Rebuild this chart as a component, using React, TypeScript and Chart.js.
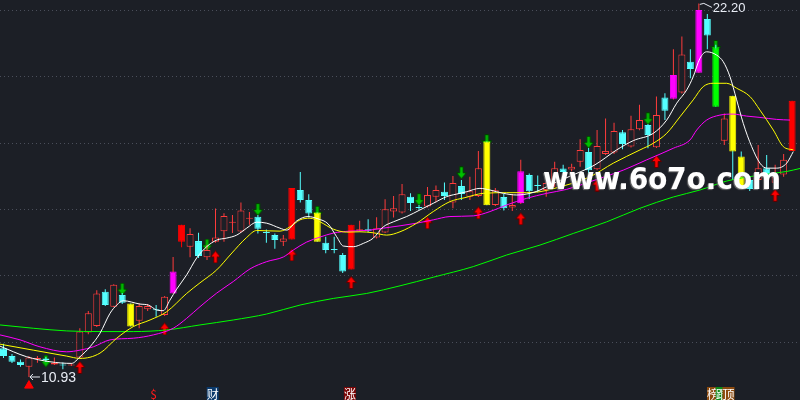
import React, { useEffect, useRef } from 'react';
import { Chart, registerables } from 'chart.js';

Chart.register(...registerables);

const BG = '#1c1f26';

// ---------- candle data (index 0..93) ----------
const opens = [
  11.80, 11.56, 11.39, 11.24, 11.47, 11.49, 11.31, 11.31, 11.28, 11.52,
  12.27, 12.47, 13.50, 13.05, 13.40, 13.15, 12.63, 12.97, 12.97, 12.80,
  13.45, 15.01, 14.86, 15.03, 14.54, 15.01, 15.33, 15.58, 15.32, 15.70,
  15.76, 15.30, 15.21, 15.01, 15.08, 16.57, 16.27, 15.89, 14.98, 14.79,
  14.61, 14.17, 15.34, 15.39, 15.14, 15.29, 15.92, 15.89, 16.37, 16.06,
  16.07, 16.37, 16.52, 16.19, 16.69, 16.37, 16.39, 18.03, 16.12, 16.36,
  16.04, 16.17, 17.02, 16.72, 16.57, 16.78, 17.22, 17.19, 17.42, 17.72,
  17.20, 17.66, 17.70, 18.31, 17.88, 18.40, 18.53, 17.86, 19.36, 19.32,
  19.51, 20.44, 20.11, 21.73, 20.85, 18.06, 19.41, 17.58, 16.87, 16.87,
  17.23, 16.79, 17.04, 17.75,
];
const closes = [
  11.56, 11.39, 11.29, 11.52, 11.50, 11.44, 11.36, 11.28, 11.31, 12.30,
  12.85, 13.45, 13.10, 13.71, 13.17, 12.45, 13.07, 13.07, 12.94, 13.35,
  14.11, 15.52, 15.24, 14.58, 14.76, 15.14, 15.79, 15.61, 15.95, 15.73,
  15.40, 15.27, 15.06, 15.11, 16.63, 16.27, 15.86, 15.01, 14.76, 14.76,
  14.11, 15.52, 15.39, 15.34, 15.42, 15.99, 16.02, 16.44, 16.18, 16.03,
  16.42, 16.57, 16.39, 16.78, 16.45, 16.53, 17.23, 16.11, 16.56, 16.02,
  16.12, 17.14, 16.53, 16.69, 16.78, 17.23, 17.11, 17.27, 17.78, 17.17,
  17.90, 17.75, 18.35, 17.96, 18.40, 18.68, 18.23, 18.83, 18.96, 20.04,
  20.66, 20.22, 22.00, 21.23, 19.08, 18.73, 17.73, 16.62, 16.60, 17.23,
  17.02, 16.97, 17.48, 19.26,
];
const highs = [
  11.93, 11.62, 11.46, 11.56, 11.56, 11.53, 11.52, 11.37, 11.35, 12.40,
  12.92, 13.55, 13.58, 13.73, 13.46, 13.15, 13.15, 13.13, 13.10, 13.37,
  14.55, 15.52, 15.42, 15.28, 14.91, 16.01, 15.87, 15.82, 16.19, 15.91,
  15.82, 15.38, 15.26, 15.21, 16.63, 17.11, 16.44, 15.89, 15.16, 15.16,
  14.67, 15.52, 15.64, 15.69, 15.75, 16.29, 16.39, 16.75, 16.47, 16.12,
  16.66, 16.71, 16.80, 16.99, 16.87, 16.97, 17.75, 18.03, 16.63, 16.45,
  16.45, 17.48, 17.07, 17.01, 16.82, 17.42, 17.33, 17.36, 18.10, 17.84,
  18.38, 18.73, 18.60, 18.38, 18.81, 19.14, 18.56, 19.39, 19.49, 20.82,
  21.20, 20.82, 22.20, 21.88, 20.95, 18.88, 19.41, 17.73, 16.99, 17.93,
  17.63, 17.33, 17.66, 19.26,
];
const lows = [
  11.50, 11.35, 11.24, 10.93, 11.36, 11.38, 11.29, 11.16, 11.26, 11.50,
  12.22, 12.44, 13.07, 13.04, 13.13, 12.45, 12.40, 12.92, 12.75, 12.77,
  13.45, 14.84, 14.54, 14.52, 14.46, 14.98, 15.01, 15.27, 15.28, 15.52,
  15.26, 14.98, 14.80, 14.88, 15.08, 16.19, 15.74, 15.01, 14.66, 14.66,
  14.07, 14.17, 15.33, 15.30, 15.11, 15.27, 15.74, 15.86, 15.94, 15.97,
  16.04, 16.19, 16.27, 16.02, 16.27, 16.27, 16.36, 16.11, 16.09, 15.95,
  15.94, 16.15, 16.30, 16.50, 16.37, 16.66, 17.05, 17.14, 17.27, 17.07,
  17.17, 17.63, 17.66, 17.80, 17.85, 18.37, 17.83, 17.84, 18.68, 19.30,
  19.48, 19.94, 20.10, 20.82, 19.08, 17.93, 16.87, 16.62, 16.54, 16.84,
  16.96, 16.75, 16.97, 17.75,
];
// u = rising (hollow red), d = falling (cyan), Y/M/G/R = highlighted bars
const kinds = [
  'd', 'd', 'd', 'u', 'u', 'd', 'u', 'd', 'u', 'u',
  'u', 'u', 'd', 'u', 'd', 'Y', 'u', 'u', 'd', 'u',
  'M', 'R', 'u', 'd', 'u', 'u', 'u', 'u', 'u', 'u',
  'd', 'd', 'd', 'u', 'R', 'd', 'd', 'Y', 'd', 'd',
  'd', 'R', 'u', 'd', 'u', 'u', 'u', 'u', 'd', 'd',
  'u', 'u', 'd', 'u', 'd', 'u', 'u', 'Y', 'u', 'd',
  'u', 'M', 'd', 'd', 'u', 'u', 'd', 'u', 'u', 'd',
  'u', 'u', 'u', 'd', 'u', 'u', 'd', 'u', 'd', 'M',
  'u', 'd', 'M', 'd', 'G', 'u', 'Y', 'Y', 'd', 'u',
  'd', 'u', 'u', 'R',
];

// ---------- signal arrows ----------
const buyIdx = [9, 19, 25, 34, 41, 50, 56, 61, 70, 77, 91];
const buyAt = [11.22, 12.38, 14.55, 14.61, 13.78, 15.58, 15.88, 15.70, 16.72, 17.43, 16.41];
const sellIdx = [5, 14, 24, 30, 37, 49, 54, 57, 69, 76, 84];
const sellAt = [11.41, 13.58, 14.91, 15.98, 15.90, 16.28, 17.09, 18.06, 18.01, 18.72, 20.90];
const lowMarkIdx = [3];
const lowMarkAt = [10.67];

// ---------- moving-average lines: [candle index, price] ----------
const whiteLine = [
  [-0.41, 11.86], [2.74, 11.54], [5.48, 11.39], [8.04, 11.34], [9.02, 11.54], [10.2, 11.84],
  [11.38, 12.25], [12.56, 12.85], [13.35, 13.10], [14.13, 13.23], [16.1, 13.13], [17.08, 13.10],
  [18.07, 12.95], [18.84, 12.93], [19.63, 13.25], [20.42, 13.58], [21.6, 14.01], [22.78, 14.52],
  [23.96, 14.86], [25.14, 15.06], [26.32, 15.12], [27.5, 15.21], [28.68, 15.42], [29.86, 15.60],
  [31.04, 15.57], [32.6, 15.42], [33.4, 15.36], [34.58, 15.64], [35.9, 15.77], [37.09, 15.70],
  [38.27, 15.55], [39.29, 15.16], [40.07, 14.88], [41.25, 14.86], [42.43, 14.96], [43.61, 15.12],
  [44.79, 15.46], [45.97, 15.61], [47.55, 15.77], [49.12, 15.97], [50.68, 16.17], [52.26, 16.37],
  [53.83, 16.47], [54.62, 16.52], [56.19, 16.62], [57.37, 16.57], [58.94, 16.47], [60.52, 16.42],
  [62.09, 16.47], [63.27, 16.57], [64.84, 16.77], [67.4, 17.05], [69.75, 17.33], [72.31, 17.78],
  [74.27, 18.06], [76.63, 18.28], [78.21, 18.68], [79.39, 19.19], [80.57, 19.59], [81.34, 19.99],
  [82.13, 20.54], [82.92, 20.74], [84.1, 20.64], [84.88, 20.44], [85.67, 19.99], [86.46, 19.29],
  [87.24, 18.58], [88.23, 17.88], [89.21, 17.38], [90.0, 17.23], [91.18, 17.23], [92.36, 17.38],
  [93.14, 17.73],
];
const yellowLine = [
  [-0.41, 11.92], [3.51, 11.74], [7.45, 11.56], [9.02, 11.49], [11.38, 11.65], [13.35, 12.10],
  [15.31, 12.45], [17.28, 12.65], [19.25, 12.90], [21.6, 13.45], [23.17, 13.77], [25.14, 14.16],
  [26.83, 14.64], [28.68, 15.14], [29.86, 15.35], [31.04, 15.34], [32.6, 15.33], [33.79, 15.46],
  [34.97, 15.67], [36.14, 15.72], [37.33, 15.61], [38.89, 15.39], [40.47, 15.30], [42.04, 15.31],
  [43.61, 15.28], [45.19, 15.21], [46.76, 15.31], [48.73, 15.57], [50.68, 15.92], [52.65, 16.22],
  [54.42, 16.34], [56.58, 16.47], [59.34, 16.49], [61.7, 16.49], [63.27, 16.52], [64.84, 16.61],
  [69.17, 16.97], [71.91, 17.38], [75.06, 17.78], [76.63, 17.98], [78.21, 18.28], [79.78, 18.78],
  [81.34, 19.29], [82.52, 19.69], [83.7, 19.79], [85.28, 19.79], [86.46, 19.64], [88.03, 19.39],
  [89.21, 18.98], [90.78, 18.38], [91.96, 17.88], [93.14, 17.78],
];
const magentaLine = [
  [-0.41, 12.20], [1.95, 12.05], [4.3, 11.84], [7.45, 11.69], [9.02, 11.74], [10.59, 11.84],
  [12.56, 12.05], [15.31, 12.10], [17.67, 12.20], [20.02, 12.40], [21.6, 12.70], [23.17, 13.05],
  [25.14, 13.46], [27.1, 13.81], [29.07, 14.19], [31.04, 14.41], [33.0, 14.55], [34.18, 14.76],
  [35.75, 15.00], [37.32, 15.15], [38.89, 15.27], [40.86, 15.33], [42.83, 15.35], [44.79, 15.42],
  [46.76, 15.49], [48.73, 15.57], [50.68, 15.67], [52.65, 15.77], [55.4, 15.79], [57.37, 15.92],
  [59.34, 16.12], [61.7, 16.32], [64.06, 16.47], [66.42, 16.59], [69.17, 16.82], [73.09, 17.17],
  [75.85, 17.48], [78.99, 17.83], [80.96, 18.08], [81.75, 18.38], [82.92, 18.68], [84.49, 18.83],
  [86.06, 18.86], [87.64, 18.80], [89.21, 18.76], [91.18, 18.70], [92.75, 18.68],
];
const greenLine = [
  [-0.41, 12.50], [3.51, 12.40], [7.45, 12.32], [11.38, 12.30], [15.31, 12.30], [19.25, 12.35],
  [23.17, 12.50], [27.1, 12.65], [31.04, 12.83], [34.97, 13.10], [38.89, 13.30], [42.83, 13.45],
  [46.76, 13.68], [50.68, 13.94], [55.4, 14.26], [59.34, 14.61], [63.27, 14.91], [67.19, 15.26],
  [71.13, 15.61], [75.06, 16.02], [78.99, 16.36], [82.13, 16.57], [85.28, 16.84], [89.21, 17.02],
  [92.36, 17.13], [93.93, 17.22],
];

// ---------- axis and annotation values ----------
const gridPrices = [12, 14, 16, 18, 20, 22];
const priceMin = 10.236;
const priceMax = 22.302;
const idxMin = -0.413;
const idxMax = 93.93;
const highIdx = 82;
const highText = '22.20';
const lowIdx = 3;
const lowText = '10.93';
const tagText = ['$', '财', '涨', '榜', '跟', '顶'];
const tagIdx = [17.71, 24.67, 40.85, 83.67, 84.7, 85.5];
const watermark = 'www.6o7o.com';

const tagStyle: Record<string, { fg: string; bg: string | null }> = {
  '$': { fg: '#ff1a1a', bg: null },
  '财': { fg: '#ffffff', bg: '#0b3a6c' },
  '涨': { fg: '#ffffff', bg: '#7a0606' },
  '榜': { fg: '#ffffff', bg: '#8c4a0e' },
  '跟': { fg: '#ffffff', bg: '#0c8a18' },
  '顶': { fg: '#ffffff', bg: '#8c4a0e' },
};

const UP = '#ff3c3c';
const DOWN = '#54ffff';
const fillOf: Record<string, string> = { u: BG, d: DOWN, Y: '#ffff00', M: '#ff00ff', G: '#00ff00', R: '#ff0000' };
const edgeOf: Record<string, string> = { u: UP, d: DOWN, Y: '#ffff00', M: '#ff00ff', G: '#00ff00', R: '#ff0000' };
const wickOf: Record<string, string> = { u: UP, d: DOWN, Y: DOWN, M: UP, G: DOWN, R: '#ff0000' };

function makeArrow(fill: string, edge: string, up: boolean): HTMLCanvasElement {
  const c = document.createElement('canvas');
  c.width = 11;
  c.height = 13;
  const g = c.getContext('2d')!;
  const pts = [[5.5, 0.5], [10.5, 6.5], [7.2, 6.5], [7.2, 12.5], [3.8, 12.5], [3.8, 6.5], [0.5, 6.5]];
  g.beginPath();
  pts.forEach(([px, py], k) => {
    const yy = up ? py : 13 - py;
    if (k === 0) g.moveTo(px, yy);
    else g.lineTo(px, yy);
  });
  g.closePath();
  g.fillStyle = fill;
  g.fill();
  g.strokeStyle = edge;
  g.lineWidth = 1;
  g.stroke();
  return c;
}

const backgroundAndGrid = {
  id: 'bgGrid',
  beforeDraw(chart: any) {
    const ctx = chart.ctx;
    ctx.save();
    ctx.fillStyle = BG;
    ctx.fillRect(0, 0, chart.width, chart.height);
    const ys = chart.scales.y;
    const area = chart.chartArea;
    ctx.strokeStyle = '#4a4e5a';
    ctx.lineWidth = 1;
    ctx.setLineDash([1, 3]);
    gridPrices.forEach((p) => {
      const y = Math.round(ys.getPixelForValue(p)) + 0.5;
      ctx.beginPath();
      ctx.moveTo(area.left, y);
      ctx.lineTo(area.right, y);
      ctx.stroke();
    });
    ctx.restore();
  },
};

const annotations = {
  id: 'annotations',
  afterDatasetsDraw(chart: any) {
    const ctx = chart.ctx;
    const xs = chart.scales.x;
    const ys = chart.scales.y;
    ctx.save();
    // high label
    const hx = xs.getPixelForValue(highIdx);
    const hy = ys.getPixelForValue(highs[highIdx]);
    ctx.strokeStyle = '#e8ecf4';
    ctx.lineWidth = 1;
    ctx.beginPath();
    ctx.moveTo(hx + 1, hy + 1);
    ctx.lineTo(hx + 5, hy);
    ctx.lineTo(hx + 13, hy + 4);
    ctx.stroke();
    ctx.fillStyle = '#e8ecf4';
    ctx.font = '13px "Liberation Sans", Arial, sans-serif';
    ctx.textBaseline = 'middle';
    ctx.textAlign = 'left';
    ctx.fillText(highText, hx + 14, hy + 5);

    // low label
    const lx = xs.getPixelForValue(lowIdx);
    const ly = ys.getPixelForValue(lows[lowIdx]);
    ctx.beginPath();
    ctx.moveTo(lx + 1, ly);
    ctx.lineTo(lx + 11, ly);
    ctx.moveTo(lx + 1, ly);
    ctx.lineTo(lx + 4, ly - 3);
    ctx.moveTo(lx + 1, ly);
    ctx.lineTo(lx + 4, ly + 3);
    ctx.stroke();
    ctx.font = '14px "Liberation Sans", Arial, sans-serif';
    ctx.fillText(lowText, lx + 12, ly + 1);

    // bottom tags
    ctx.font = '12px "Noto Sans CJK SC", sans-serif';
    ctx.textAlign = 'center';
    tagText.forEach((t, k) => {
      const cx = xs.getPixelForValue(tagIdx[k]);
      const st = tagStyle[t];
      if (st.bg) {
        ctx.fillStyle = st.bg;
        ctx.fillRect(cx - 6, 387, 12, 13);
      }
      ctx.fillStyle = st.fg;
      ctx.fillText(t, cx, 394);
    });

    // watermark
    ctx.font = 'bold 30px "DejaVu Sans", sans-serif';
    ctx.textAlign = 'left';
    ctx.textBaseline = 'alphabetic';
    ctx.shadowColor = 'rgba(120,120,120,0.9)';
    ctx.shadowOffsetX = -1;
    ctx.shadowOffsetY = 1;
    ctx.shadowBlur = 1;
    ctx.fillStyle = '#ffffff';
    ctx.fillText(watermark, 543, 189, 238);
    ctx.restore();
  },
};

export default function App() {
  const ref = useRef<HTMLCanvasElement | null>(null);

  useEffect(() => {
    document.body.style.margin = '0';
    document.body.style.background = BG;
    if (!ref.current) return;
    const idx = opens.map((_, i) => i);
    const upImg = makeArrow('#ff0000', '#5a0000', true);
    const downImg = makeArrow('#00c000', '#004000', false);
    const toXY = (arr: number[][]) => arr.map(([x, y]) => ({ x, y }));

    const lineDs = (data: number[][], color: string) => ({
      type: 'line' as const,
      data: toXY(data),
      borderColor: color,
      borderWidth: 1,
      pointRadius: 0,
      cubicInterpolationMode: 'monotone' as const,
      fill: false,
      order: 0,
    });

    const chart = new Chart(ref.current, {
      type: 'bar',
      data: {
        datasets: [
          lineDs(whiteLine, '#ffffff'),
          lineDs(yellowLine, '#ffff00'),
          lineDs(magentaLine, '#ff00ff'),
          lineDs(greenLine, '#00ff00'),
          {
            type: 'bar',
            data: idx.map((i) => ({ x: i, y: [opens[i], closes[i]] })),
            backgroundColor: idx.map((i) => fillOf[kinds[i]]),
            borderColor: idx.map((i) => edgeOf[kinds[i]]),
            borderWidth: 1,
            borderSkipped: false,
            barThickness: 7,
            grouped: false,
            inflateAmount: 0,
            order: 1,
          } as any,
          {
            type: 'bar',
            data: idx.map((i) => ({ x: i, y: [lows[i], highs[i]] })),
            backgroundColor: idx.map((i) => wickOf[kinds[i]]),
            borderWidth: 0,
            barThickness: 1,
            grouped: false,
            inflateAmount: 0,
            order: 2,
          } as any,
          {
            type: 'line',
            data: buyIdx.map((i, k) => ({ x: i, y: buyAt[k] })),
            showLine: false,
            pointStyle: upImg,
            pointRadius: 6,
            order: 3,
          } as any,
          {
            type: 'line',
            data: sellIdx.map((i, k) => ({ x: i, y: sellAt[k] })),
            showLine: false,
            pointStyle: downImg,
            pointRadius: 6,
            order: 3,
          } as any,
          {
            type: 'line',
            data: lowMarkIdx.map((i, k) => ({ x: i, y: lowMarkAt[k] })),
            showLine: false,
            pointStyle: 'triangle',
            pointRadius: 5,
            backgroundColor: '#ff0000',
            borderColor: '#ff0000',
            order: 3,
          } as any,
        ],
      },
      options: {
        responsive: false,
        maintainAspectRatio: false,
        animation: false,
        layout: { padding: 0, autoPadding: false },
        plugins: { legend: { display: false }, tooltip: { enabled: false } },
        events: [],
        scales: {
          x: { type: 'linear', min: idxMin, max: idxMax, offset: false, display: false },
          y: { type: 'linear', min: priceMin, max: priceMax, display: false },
        },
      },
      plugins: [backgroundAndGrid, annotations],
    } as any);

    return () => chart.destroy();
  }, []);

  return (
    <div style={{ width: 800, height: 400, background: BG }}>
      <canvas ref={ref} width={800} height={400} style={{ display: 'block', width: 800, height: 400 }} />
    </div>
  );
}
